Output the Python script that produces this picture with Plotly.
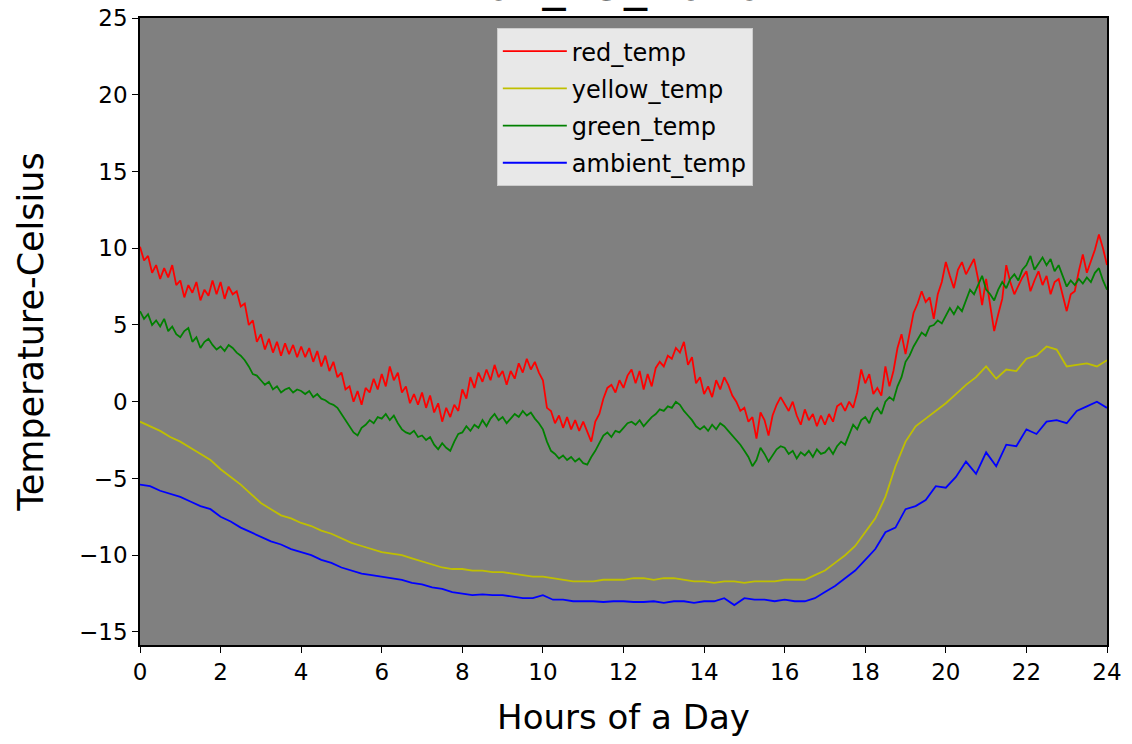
import numpy as np
import plotly.graph_objects as go

# ---------------- data ----------------
title_text = "01_15_2020"
series_names = ["red_temp", "yellow_temp", "green_temp", "ambient_temp"]
series_colors = ["#ff0000", "#bfbf00", "#008000", "#0000ff"]

# red / green sampled every 0.1 h
hours_fine = [round(i * 0.1, 1) for i in range(241)]
red_temp = [
    10.1, 9.2, 9.5, 8.4, 8.9, 8.0, 8.7, 8.1, 8.9, 7.6,
    7.9, 6.8, 7.6, 7.1, 7.8, 6.6, 7.3, 6.9, 7.9, 7.0,
    7.8, 6.7, 7.5, 7.0, 7.2, 6.2, 6.4, 5.0, 5.3, 3.9,
    4.4, 3.4, 4.1, 3.2, 3.9, 3.0, 3.8, 3.1, 3.7, 2.9,
    3.6, 2.9, 3.5, 2.6, 3.3, 2.3, 3.0, 2.0, 2.6, 1.6,
    1.9, 0.8, 1.0, 0.0, 0.7, -0.2, 0.9, 0.6, 1.5, 0.8,
    1.8, 1.0, 2.3, 1.4, 1.9, 0.6, 1.0, -0.1, 0.5, -0.2,
    0.6, -0.4, 0.4, -0.7, -0.1, -1.3, -0.4, -1.0, -0.2, -0.6,
    0.8, 0.2, 1.6, 0.9, 1.9, 1.3, 2.1, 1.4, 2.4, 1.6,
    2.0, 1.1, 2.0, 1.5, 2.5, 1.9, 2.8, 2.1, 2.6, 1.9,
    1.4, -0.4, -0.6, -1.4, -0.9, -1.7, -1.0, -1.8, -1.2, -1.9,
    -1.3, -2.0, -2.6, -1.3, -0.8, 0.2, 0.9, 1.1, 0.6, 1.4,
    0.9, 1.7, 2.1, 1.2, 2.0, 0.8, 1.8, 1.0, 2.2, 2.6,
    2.3, 3.0, 2.8, 3.5, 3.2, 3.9, 2.4, 2.9, 1.2, 1.6,
    0.5, 1.0, 0.3, 1.4, 0.8, 1.6, 1.1, 0.4, 0.0, -0.6,
    -0.4, -1.3, -1.0, -2.4, -0.7, -1.2, -2.2, -0.9, -0.2, 0.3,
    -0.2, -0.6, 0.0, -0.9, -1.5, -0.5, -1.2, -0.8, -1.6, -0.9,
    -1.5, -0.8, -1.3, -0.3, -0.1, -0.6, 0.0, -0.4, 0.6, 2.1,
    1.2, 1.8, 0.5, 0.9, 0.4, 2.3, 1.0, 2.0, 3.5, 4.4,
    3.1, 4.5, 5.8, 6.4, 7.2, 6.5, 6.8, 5.4, 7.0, 7.8,
    9.1, 8.2, 7.4, 8.6, 9.1, 8.3, 8.8, 9.3, 8.0, 6.3,
    8.0, 6.4, 4.6, 5.7, 6.7, 8.9, 7.8, 7.0, 7.6, 8.1,
    8.5, 7.2, 7.9, 8.5, 7.6, 8.2, 7.0, 7.8, 8.0, 6.9,
    5.9, 7.0, 7.2, 8.5, 9.6, 8.4, 9.1, 9.9, 10.9, 10.0,
    8.9,
]
green_temp = [
    5.9, 5.4, 5.7, 5.0, 5.3, 4.9, 5.4, 4.6, 4.9, 4.4,
    4.2, 4.6, 4.8, 3.9, 4.2, 3.5, 3.9, 4.1, 3.7, 3.4,
    3.6, 3.3, 3.7, 3.5, 3.2, 3.0, 2.7, 2.3, 1.8, 1.7,
    1.4, 1.1, 1.3, 0.8, 1.0, 0.6, 0.8, 0.9, 0.6, 0.8,
    0.7, 0.5, 0.7, 0.3, 0.5, 0.2, 0.1, -0.1, -0.2, -0.4,
    -0.8, -1.2, -1.6, -2.0, -2.2, -1.7, -1.5, -1.2, -1.4, -1.0,
    -1.1, -0.8, -1.2, -0.9, -1.4, -1.8, -2.0, -2.1, -1.9, -2.3,
    -2.2, -2.5, -2.3, -2.8, -3.1, -2.7, -3.0, -3.2, -2.6, -2.1,
    -2.0, -1.6, -1.9, -1.5, -1.7, -1.2, -1.6, -1.1, -0.8, -1.2,
    -1.0, -1.4, -1.1, -0.8, -1.0, -0.6, -0.9, -0.7, -1.1, -1.4,
    -1.8, -2.6, -3.2, -3.4, -3.7, -3.5, -3.8, -3.6, -3.9, -3.7,
    -4.0, -4.1, -3.6, -3.2, -2.7, -2.2, -2.0, -2.3, -1.9, -2.0,
    -1.7, -1.4, -1.3, -1.5, -1.2, -1.6, -1.3, -1.0, -0.8, -0.5,
    -0.6, -0.3, -0.4, 0.0, -0.2, -0.6, -0.9, -1.2, -1.6, -1.8,
    -1.6, -1.9, -1.5, -1.8, -1.4, -1.6, -1.9, -2.2, -2.5, -2.8,
    -3.2, -3.6, -4.2, -3.8, -3.0, -3.4, -3.9, -3.5, -3.1, -2.9,
    -3.0, -3.4, -3.2, -3.7, -3.3, -3.5, -3.2, -3.6, -3.1, -3.4,
    -3.3, -3.0, -3.4, -2.9, -2.6, -2.8, -2.2, -1.5, -1.8, -1.2,
    -1.0, -1.4, -0.7, -0.4, -0.8, 0.0, 0.3, 0.1, 1.0, 1.6,
    2.6, 3.0, 3.6, 4.1, 4.5, 4.3, 4.9, 5.0, 5.3, 5.1,
    5.6, 6.1, 5.7, 6.2, 5.9, 6.6, 7.3, 7.0, 7.6, 8.2,
    7.3, 7.0, 6.6, 7.3, 7.8, 7.4, 8.0, 8.3, 7.9, 8.6,
    8.9, 9.5, 8.6, 9.0, 9.4, 8.9, 9.3, 8.5, 8.9, 8.2,
    7.5, 7.9, 7.6, 8.0, 7.7, 8.1, 7.8, 8.4, 8.7, 7.9,
    7.3,
]

# yellow / ambient sampled every 0.25 h
hours_coarse = [i * 0.25 for i in range(97)]
yellow_temp = [
    -1.3, -1.6, -1.9, -2.3, -2.6, -3.0, -3.4, -3.8, -4.4, -4.9,
    -5.4, -6.0, -6.6, -7.0, -7.4, -7.6, -7.9, -8.1, -8.4, -8.6,
    -8.9, -9.2, -9.4, -9.6, -9.8, -9.9, -10.0, -10.2, -10.4, -10.6,
    -10.8, -10.9, -10.9, -11.0, -11.0, -11.1, -11.1, -11.2, -11.3, -11.4,
    -11.4, -11.5, -11.6, -11.7, -11.7, -11.7, -11.6, -11.6, -11.6, -11.5,
    -11.5, -11.6, -11.5, -11.5, -11.6, -11.7, -11.7, -11.8, -11.7, -11.7,
    -11.8, -11.7, -11.7, -11.7, -11.6, -11.6, -11.6, -11.3, -11.0, -10.5,
    -10.0, -9.4, -8.5, -7.6, -6.2, -4.2, -2.6, -1.6, -1.1, -0.6,
    -0.1, 0.5, 1.1, 1.6, 2.3, 1.5, 2.1, 2.0, 2.8, 3.0,
    3.6, 3.4, 2.3, 2.4, 2.5, 2.3, 2.7,
]
ambient_temp = [
    -5.4, -5.5, -5.8, -6.0, -6.2, -6.5, -6.8, -7.0, -7.5, -7.8,
    -8.2, -8.5, -8.8, -9.1, -9.3, -9.6, -9.8, -10.0, -10.3, -10.5,
    -10.8, -11.0, -11.2, -11.3, -11.4, -11.5, -11.6, -11.8, -11.9, -12.1,
    -12.2, -12.4, -12.5, -12.6, -12.55, -12.6, -12.6, -12.7, -12.8, -12.8,
    -12.6, -12.9, -12.9, -13.0, -13.0, -13.0, -13.05, -13.0, -13.0, -13.05,
    -13.05, -13.0, -13.1, -13.0, -13.0, -13.1, -13.0, -13.0, -12.8, -13.25,
    -12.8, -12.9, -12.9, -13.0, -12.9, -13.0, -13.0, -12.8, -12.4, -12.0,
    -11.5, -11.0, -10.3, -9.6, -8.5, -8.2, -7.0, -6.8, -6.4, -5.5,
    -5.6, -4.9, -3.9, -4.7, -3.3, -4.2, -2.8, -2.9, -1.8, -2.1,
    -1.3, -1.2, -1.4, -0.6, -0.3, 0.0, -0.4,
]

x_ticks = list(range(0, 25, 2))
y_ticks = list(range(-15, 26, 5))
x_label = "Hours of a Day"
y_label = "Temperature-Celsius"

# ---------------- figure ----------------
FONT = "DejaVu Sans"
fig = go.Figure()
xs = [hours_fine, hours_coarse, hours_fine, hours_coarse]
ys = [red_temp, yellow_temp, green_temp, ambient_temp]
for name, color, x, y in zip(series_names, series_colors, xs, ys):
    fig.add_trace(go.Scatter(x=x, y=y, mode="lines", name=name, legendgroup=name,
                             line=dict(color=color, width=1.8)))

axis_common = dict(showgrid=False, zeroline=False, showline=True, linecolor="black",
                   linewidth=1.5, mirror=True, ticks="outside", ticklen=6, tickwidth=1.3,
                   tickcolor="black", automargin=False,
                   tickfont=dict(family=FONT, size=23, color="black"))
fig.update_xaxes(range=[0, 24], tickvals=x_ticks,
                 title=dict(text=x_label, font=dict(family=FONT, size=34, color="black"), standoff=21),
                 **axis_common)
fig.update_yaxes(range=[-15.85, 25], tickvals=y_ticks,
                 title=dict(text=y_label, font=dict(family=FONT, size=35, color="black"), standoff=25),
                 **axis_common)

fig.update_layout(
    width=1132, height=744,
    margin=dict(l=140, r=25, t=18, b=99, autoexpand=False),
    paper_bgcolor="white", plot_bgcolor="#808080",
    legend=dict(x=0.369, y=0.984, xanchor="left", yanchor="top",
                bgcolor="rgba(255,255,255,0.82)", bordercolor="#cccccc", borderwidth=1,
                font=dict(family=FONT, size=24, color="black"), tracegroupgap=3,
                itemwidth=64),
    showlegend=True,
)
fig.add_annotation(text=title_text, xref="paper", yref="paper", x=0.5, y=1.0,
                   xanchor="center", yanchor="bottom", yshift=5, showarrow=False,
                   font=dict(family=FONT, size=46, color="black"))

fig.write_html("out.html")
